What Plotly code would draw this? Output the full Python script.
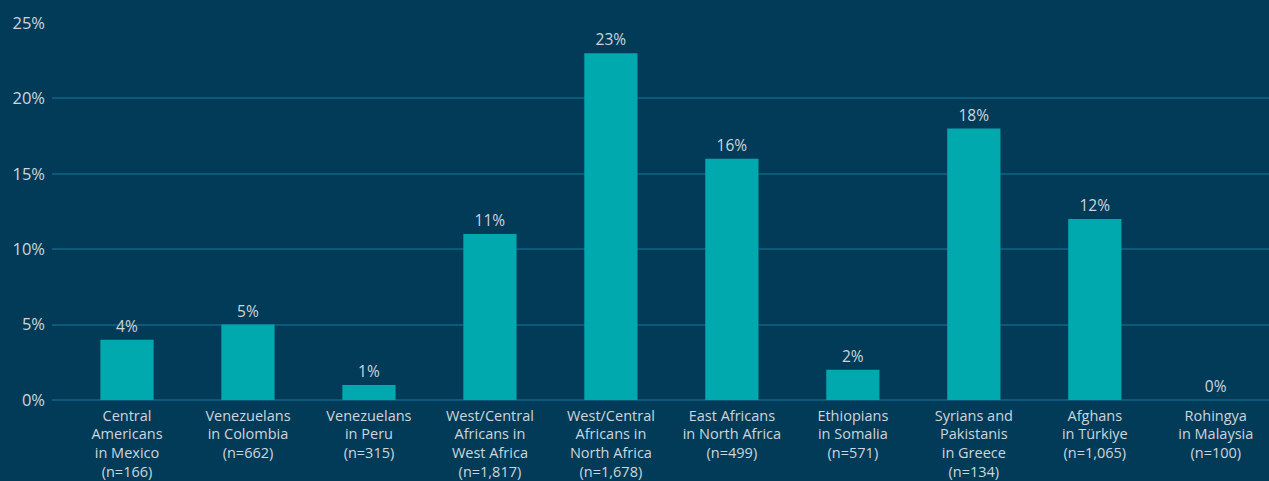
import plotly.graph_objects as go

categories = [
    "Central<br>Americans<br>in Mexico<br>(n=166)",
    "Venezuelans<br>in Colombia<br>(n=662)",
    "Venezuelans<br>in Peru<br>(n=315)",
    "West/Central<br>Africans in<br>West Africa<br>(n=1,817)",
    "West/Central<br>Africans in<br>North Africa<br>(n=1,678)",
    "East Africans<br>in North Africa<br>(n=499)",
    "Ethiopians<br>in Somalia<br>(n=571)",
    "Syrians and<br>Pakistanis<br>in Greece<br>(n=134)",
    "Afghans<br>in Türkiye<br>(n=1,065)",
    "Rohingya<br>in Malaysia<br>(n=100)",
]
values = [4, 5, 1, 11, 23, 16, 2, 18, 12, 0]
y_ticks = [0, 5, 10, 15, 20, 25]
y_tick_labels = ["0%", "5%", "10%", "15%", "20%", "25%"]

BG = "#013b58"
BAR = "#00a9ae"
GRID = "#0b5a7c"
TXT = "#cdd6dd"

fig = go.Figure(
    go.Bar(
        x=list(range(len(categories))),
        y=values,
        width=0.44,
        marker=dict(color=BAR, line=dict(width=0)),
        text=[f"{v}%" for v in values],
        textposition="outside",
        textfont=dict(family="Open Sans", size=15.5, color=TXT),
        cliponaxis=False,
    )
)

fig.update_layout(
    width=1269,
    height=481,
    paper_bgcolor=BG,
    plot_bgcolor=BG,
    margin=dict(l=52, r=0, t=23, b=78),
    showlegend=False,
    bargap=0.5,
    xaxis=dict(
        range=[-0.62, 9.44],
        tickmode="array",
        tickvals=list(range(len(categories))),
        ticktext=categories,
        tickangle=0,
        tickfont=dict(family="Open Sans", size=14.5, color=TXT),
        ticklabelstandoff=5,
        showgrid=False,
        zeroline=False,
        showline=False,
        ticks="",
    ),
    yaxis=dict(
        range=[0, 25],
        tickmode="array",
        tickvals=y_ticks,
        ticktext=y_tick_labels,
        tickfont=dict(family="Open Sans", size=16.5, color=TXT),
        ticklabelstandoff=6,
        showgrid=True,
        gridcolor=GRID,
        gridwidth=2,
        zeroline=True,
        zerolinecolor=GRID,
        zerolinewidth=2,
        showline=False,
        ticks="",
    ),
)

fig.write_html(
    "out.html",
    config={"displayModeBar": False},
    post_script="document.body.style.margin='0';document.body.style.background='%s';" % BG,
)
